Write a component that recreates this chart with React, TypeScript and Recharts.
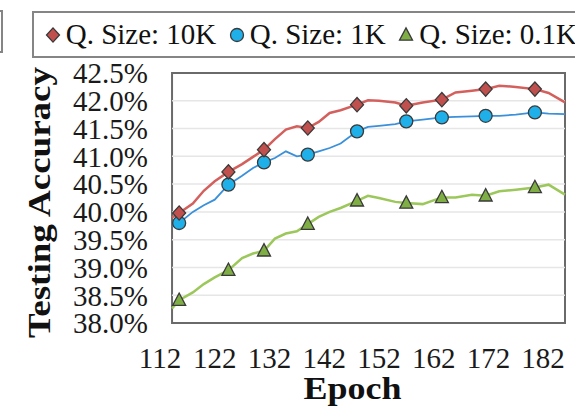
import React from "react";
import { LineChart, Line, XAxis, YAxis, ReferenceLine, ReferenceArea } from "recharts";

const epochs = [114.2, 115.5, 118, 120, 122, 124.5, 127, 129, 131, 133, 135, 137, 139, 141, 143, 145, 148, 150, 152, 155, 157, 160, 163.5, 166, 169, 171.5, 174, 177, 180.5, 183, 186];
const size10K = [39.9, 39.98, 40.15, 40.38, 40.55, 40.72, 40.86, 40.99, 41.12, 41.31, 41.48, 41.54, 41.51, 41.62, 41.78, 41.83, 41.93, 42.01, 42.0, 41.97, 41.91, 41.97, 42.02, 42.15, 42.18, 42.21, 42.27, 42.25, 42.21, 42.14, 41.97];
const size1K = [39.74, 39.8, 40.0, 40.12, 40.22, 40.49, 40.65, 40.79, 40.89, 40.97, 41.09, 41.0, 41.03, 41.09, 41.15, 41.23, 41.45, 41.53, 41.55, 41.58, 41.63, 41.66, 41.7, 41.71, 41.72, 41.73, 41.73, 41.75, 41.79, 41.77, 41.76];
const size01K = [38.26, 38.41, 38.55, 38.7, 38.82, 38.95, 39.17, 39.25, 39.3, 39.52, 39.61, 39.65, 39.78, 39.91, 40.0, 40.07, 40.2, 40.29, 40.25, 40.18, 40.16, 40.14, 40.26, 40.26, 40.31, 40.29, 40.37, 40.4, 40.44, 40.49, 40.31];
const markerEpochs = [115.5, 124.5, 131, 139, 148, 157, 163.5, 171.5, 180.5];
const xTicks = [112, 122, 132, 142, 152, 162, 172, 182];
const yTicks = [38, 38.5, 39, 39.5, 40, 40.5, 41, 41.5, 42, 42.5];
const seriesNames = ["Q. Size: 10K", "Q. Size: 1K", "Q. Size: 0.1K"];

const data = epochs.map((e, i) => ({ epoch: e, s10k: size10K[i], s1k: size1K[i], s01k: size01K[i] }));

const FONT = "'Liberation Serif', 'Times New Roman', serif";
const RED_LINE = "#d3605d";
const RED_MARK = "#c0504d";
const BLUE_LINE = "#3a90da";
const BLUE_MARK = "#1fb0ea";
const GREEN_LINE = "#9cc75a";
const GREEN_MARK = "#7fae45";
const MARK_STROKE = "#3a3a3a";
const FRAME_X0 = 114.2;
const FRAME_X1 = 186;

type Shape = "diamond" | "circle" | "triangle";

function markerEl(shape: Shape, cx: number, cy: number, fill: string, s: number, key?: string) {
  if (shape === "diamond") {
    return <path key={key} d={`M${cx},${cy - s * 1.1} L${cx + s},${cy} L${cx},${cy + s * 1.1} L${cx - s},${cy} Z`} fill={fill} stroke={MARK_STROKE} strokeWidth={1.3} />;
  }
  if (shape === "circle") {
    return <circle key={key} cx={cx} cy={cy} r={s} fill={fill} stroke={MARK_STROKE} strokeWidth={1.3} />;
  }
  return <path key={key} d={`M${cx},${cy - s * 1.1} L${cx + s},${cy + s * 0.8} L${cx - s},${cy + s * 0.8} Z`} fill={fill} stroke={MARK_STROKE} strokeWidth={1.3} />;
}

const makeDot = (shape: Shape, fill: string) => (props: any) => {
  const { cx, cy, payload, index } = props;
  if (payload && markerEpochs.includes(payload.epoch) && cx != null && cy != null) {
    return markerEl(shape, cx, cy, fill, 6.5, `m${index}`);
  }
  return <g key={`n${index}`} />;
};

const LegendMarker = ({ shape, fill }: { shape: Shape; fill: string }) => (
  <svg width={16} height={18} style={{ display: "block", flex: "none" }}>
    {markerEl(shape, 8, 9, fill, 6.5)}
  </svg>
);

export default function App() {
  const legendItems: { shape: Shape; fill: string; name: string }[] = [
    { shape: "diamond", fill: RED_MARK, name: seriesNames[0] },
    { shape: "circle", fill: BLUE_MARK, name: seriesNames[1] },
    { shape: "triangle", fill: GREEN_MARK, name: seriesNames[2] },
  ];
  return (
    <div style={{ position: "absolute", left: 0, top: 0, width: 575, height: 409, overflow: "hidden", background: "#fff", fontFamily: FONT }}>
      <LineChart width={575} height={409} data={data} margin={{ top: 73, right: 10, bottom: 0, left: 0 }}>
        {yTicks.slice(1, -1).map((v) => (
          <ReferenceLine key={`g${v}`} segment={[{ x: FRAME_X0, y: v }, { x: FRAME_X1, y: v }]} stroke="#e6e6e6" strokeWidth={1.5} />
        ))}
        <XAxis
          dataKey="epoch"
          type="number"
          domain={[112, 186]}
          ticks={xTicks}
          axisLine={false}
          tickLine={false}
          tickSize={0}
          tickMargin={24}
          height={86}
          interval={0}
          tick={{ fontSize: 29, fill: "#1a1a1a", fontFamily: FONT }}
          label={{
            content: () => (
              <text x={352.5} y={399} textAnchor="middle" fontFamily={FONT} fontWeight="bold" fontSize={32} fill="#111" textLength={98} lengthAdjust="spacingAndGlyphs">
                Epoch
              </text>
            ),
          }}
        />
        <YAxis
          type="number"
          domain={[38, 42.5]}
          ticks={yTicks}
          axisLine={false}
          tickLine={false}
          tickSize={0}
          tickMargin={12}
          width={160}
          interval={0}
          tickFormatter={(v: number) => `${v.toFixed(1)}%`}
          tick={{ fontSize: 29, fill: "#1a1a1a", fontFamily: FONT }}
          label={{
            content: () => (
              <text x={50} y={202.5} transform="rotate(-90, 50, 202.5)" textAnchor="middle" fontFamily={FONT} fontWeight="bold" fontSize={32} fill="#111" textLength={271} lengthAdjust="spacingAndGlyphs">
                Testing Accuracy
              </text>
            ),
          }}
        />
        <Line type="linear" dataKey="s01k" name={seriesNames[2]} stroke={GREEN_LINE} strokeWidth={2.5} dot={makeDot("triangle", GREEN_MARK)} activeDot={false} isAnimationActive={false} />
        <Line type="linear" dataKey="s1k" name={seriesNames[1]} stroke={BLUE_LINE} strokeWidth={1.8} dot={makeDot("circle", BLUE_MARK)} activeDot={false} isAnimationActive={false} />
        <Line type="linear" dataKey="s10k" name={seriesNames[0]} stroke={RED_LINE} strokeWidth={2.5} dot={makeDot("diamond", RED_MARK)} activeDot={false} isAnimationActive={false} />
        <ReferenceArea x1={FRAME_X0} x2={FRAME_X1} y1={38} y2={42.5} fill="none" fillOpacity={0} stroke="#6a6a6a" strokeWidth={2} />
      </LineChart>
      <div style={{ position: "absolute", left: -20, top: 10, width: 23, height: 43, border: "2px solid #858585", boxSizing: "border-box" }} />
      <div
        style={{
          position: "absolute",
          left: 32,
          top: 11,
          width: 600,
          height: 47,
          border: "2px solid #858585",
          boxSizing: "border-box",
          display: "flex",
          alignItems: "center",
          paddingLeft: 10.5,
          fontSize: 29,
          color: "#111",
          whiteSpace: "nowrap",
        }}
      >
        {legendItems.map((it, i) => (
          <div key={it.name} style={{ display: "flex", alignItems: "center", marginLeft: i === 0 ? 0 : 12.2 }}>
            <LegendMarker shape={it.shape} fill={it.fill} />
            <span style={{ marginLeft: 5.2, lineHeight: "29px" }}>{it.name}</span>
          </div>
        ))}
      </div>
    </div>
  );
}
